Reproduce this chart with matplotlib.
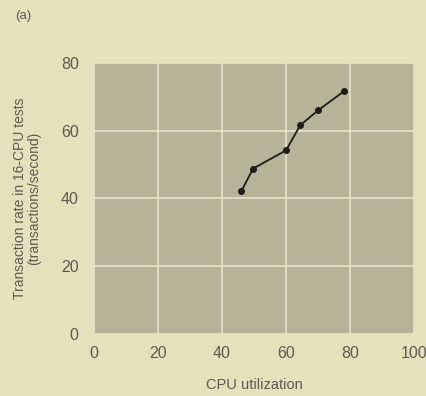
import matplotlib
matplotlib.use("Agg")
import matplotlib.pyplot as plt

# CPU utilization (%) vs transaction rate, 16-CPU tests
cpu_util = [46, 49.7, 60, 64.4, 70, 78]
trans_rate = [42.1, 48.8, 54.2, 61.6, 66, 71.6]
x_ticks = [0, 20, 40, 60, 80, 100]
y_ticks = [0, 20, 40, 60, 80]

bg = "#e4e2bd"
panel = "#b5b398"
text_col = "#5a5a50"

plt.rcParams['font.family'] = ['Liberation Sans', 'DejaVu Sans']

fig = plt.figure(figsize=(4.27, 3.96), dpi=100, facecolor=bg)
ax = fig.add_axes([0.22, 0.157, 0.75, 0.684])
ax.set_facecolor(panel)

ax.plot(cpu_util, trans_rate, color="#1c1c18", lw=1.3, marker="o", ms=4)

ax.set_xlim(0, 100)
ax.set_ylim(0, 80)
ax.set_xticks(x_ticks)
ax.set_yticks(y_ticks)
ax.grid(True, color="#e6e4d0", lw=1.2)
ax.set_axisbelow(True)
for s in ax.spines.values():
    s.set_visible(False)
ax.tick_params(length=0, labelsize=11.5, labelcolor=text_col)
ax.tick_params(axis="x", pad=9)
ax.tick_params(axis="y", pad=11)

ax.set_xlabel("CPU utilization", fontsize=10.5, color=text_col, labelpad=12)
ax.set_ylabel("Transaction rate in 16-CPU tests\n(transactions/second)",
              fontsize=10, color=text_col, labelpad=14, linespacing=1.0)

fig.text(0.035, 0.96, "(a)", fontsize=9.5, color=text_col, va="center")

fig.savefig("out.png", dpi=100, facecolor=bg)
